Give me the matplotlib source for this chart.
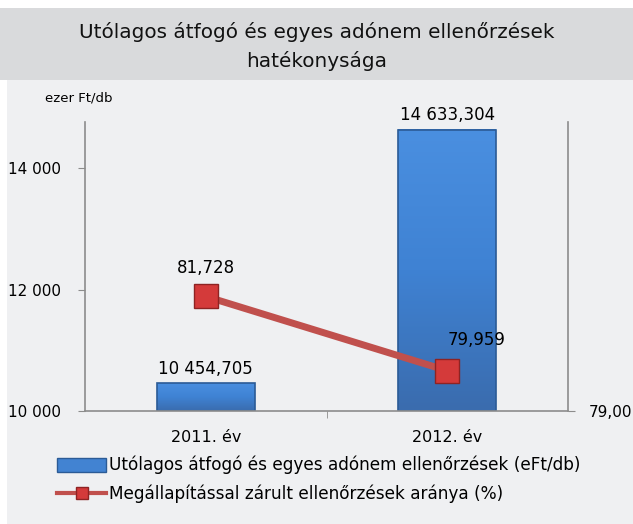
import numpy as np
import matplotlib.pyplot as plt
import matplotlib.patches as mpatches
from matplotlib.colors import LinearSegmentedColormap
from matplotlib.lines import Line2D

categories = ["2011. év", "2012. év"]
avg_value = [10454.705, 14633.304]       # ezer Ft/db
ratio = [81.728, 79.959]                 # %
avg_labels = ["10 454,705", "14 633,304"]
ratio_labels = ["81,728", "79,959"]

BG = "#eff0f2"
TITLE_BG = "#d9dadc"
BAR = "#3d7fce"
BAR_EDGE = "#2b5b96"
LINE = "#c0504d"
MARK = "#d43a3a"
AX = "#8c8c8c"
Y_MIN, Y_MAX = 10000, 14760

plt.rcParams["font.family"] = ["DejaVu Sans"]

fig = plt.figure(figsize=(6.33, 5.24), dpi=100)
fig.patch.set_facecolor("white")

# chart area background and title band
fig.add_artist(mpatches.Rectangle((0.011, 0), 0.989, 0.847, transform=fig.transFigure,
                                  facecolor=BG, edgecolor="none", zorder=0))
fig.add_artist(mpatches.Rectangle((0.0, 0.847), 1.0, 0.138, transform=fig.transFigure,
                                  facecolor=TITLE_BG, edgecolor="none", zorder=0))
fig.text(0.5, 0.911, "Utólagos átfogó és egyes adónem ellenőrzések\nhatékonysága",
         ha="center", va="center", fontsize=14.4, linespacing=1.55, color="#111111")

ax = fig.add_axes([0.1343, 0.2156, 0.7630, 0.5516])
ax.set_facecolor("none")
x = list(range(len(categories)))
bars = ax.bar(x, avg_value, width=0.405, color=BAR, edgecolor="none", zorder=2)

# vertical gradient inside each bar (only the visible part above Y_MIN)
grad = LinearSegmentedColormap.from_list("g", ["#3a6cae", "#3f82d3", "#4a8fe0"])
for b in bars:
    x0, w, top = b.get_x(), b.get_width(), b.get_height()
    ax.imshow(np.linspace(0, 1, 100).reshape(-1, 1), cmap=grad, origin="lower",
              extent=[x0, x0 + w, Y_MIN, top], aspect="auto", zorder=2.1)
    ax.add_patch(mpatches.Rectangle((x0, Y_MIN), w, top - Y_MIN, facecolor="none",
                                    edgecolor=BAR_EDGE, linewidth=1.2, zorder=2.2))

ax.set_xlim(-0.5, 1.5)
ax.set_ylim(Y_MIN, Y_MAX)
ax.set_yticks([10000, 12000, 14000])
ax.set_yticklabels(["10 000", "12 000", "14 000"])
ax.set_xticks(x)
ax.set_xticklabels(categories)
ax.set_xticks([0.5], minor=True)
ax.tick_params(axis="x", which="major", length=0, pad=14, labelsize=11.5)
ax.tick_params(axis="x", which="minor", length=5, color=AX)
ax.tick_params(axis="y", length=5, color=AX, pad=12, labelsize=11)
for s in ["top", "right"]:
    ax.spines[s].set_visible(False)
for s in ["left", "bottom"]:
    ax.spines[s].set_color(AX)
    ax.spines[s].set_linewidth(1.2)

for xi, v, lab in zip(x, avg_value, avg_labels):
    ax.annotate(lab, (xi, v), xytext=(0, 4), textcoords="offset points",
                ha="center", va="bottom", fontsize=12)

ax2 = ax.twinx()
ax2.set_ylim(79, 85.88)
ax2.set_yticks([79])
ax2.set_yticklabels(["79,00"])
ax2.tick_params(axis="y", length=5, color=AX, pad=10, labelsize=11)
for s in ["top", "left", "bottom"]:
    ax2.spines[s].set_visible(False)
ax2.spines["right"].set_color(AX)
ax2.spines["right"].set_linewidth(1.2)
ax2.plot(x, ratio, color=LINE, linewidth=5, marker="s", markersize=17,
         markerfacecolor=MARK, markeredgecolor="#8e2323", markeredgewidth=1, zorder=3)
ax2.annotate(ratio_labels[0], (x[0], ratio[0]), xytext=(0, 14), textcoords="offset points",
             ha="center", va="bottom", fontsize=12)
ax2.annotate(ratio_labels[1], (x[1], ratio[1]), xytext=(21, 16), textcoords="offset points",
             ha="center", va="bottom", fontsize=12)

fig.text(0.071, 0.813, "ezer Ft/db", fontsize=9.5, va="center")

handles = [mpatches.Patch(facecolor="#4283d2", edgecolor=BAR_EDGE),
           Line2D([0], [0], color=LINE, linewidth=3, marker="s", markersize=9,
                  markerfacecolor=MARK, markeredgecolor="#8e2323")]
fig.legend(handles, ["Utólagos átfogó és egyes adónem ellenőrzések (eFt/db)",
                     "Megállapítással zárult ellenőrzések aránya (%)"],
           loc="upper left", bbox_to_anchor=(0.077, 0.146), frameon=False,
           fontsize=12.2, handlelength=2.9, handleheight=0.9, handletextpad=0.15,
           labelspacing=0.6, borderpad=0)

fig.savefig("out.png", dpi=100)
